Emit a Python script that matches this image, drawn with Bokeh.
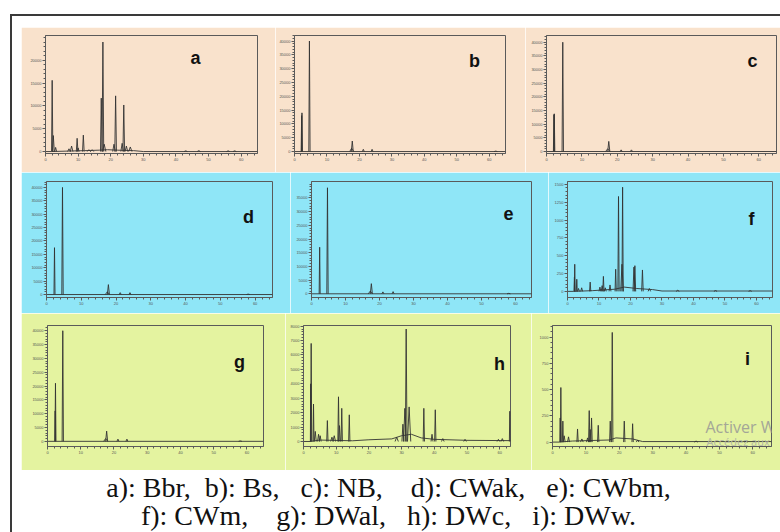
from bokeh.plotting import figure
from bokeh.layouts import row, column
from bokeh.models import Range1d, FixedTicker, Label, Div, Spacer
from bokeh.embed import file_html
from bokeh.resources import INLINE

# ---------------- data ----------------
x_ticks_min = [0, 10, 20, 30, 40, 50, 60]
sample_tags = {"a": "Bbr", "b": "Bs", "c": "NB", "d": "CWak", "e": "CWbm",
               "f": "CWm", "g": "DWal", "h": "DWc", "i": "DWw"}
caption_lines = ["a): Bbr,\u00a0 b): Bs,\u00a0\u00a0 c): NB,\u00a0\u00a0\u00a0 d): CWak,\u00a0\u00a0 e): CWbm,",
                 "f): CWm,\u00a0\u00a0\u00a0 g): DWal,\u00a0\u00a0 h): DWc,\u00a0\u00a0 i): DWw."]

# retention time (min), peak height (mAU), half base width (min)
a_rt = [2.05, 2.4, 3.1, 7.2, 8.0, 9.7, 10.0, 11.6, 13.3, 14.3, 17.1, 17.6, 18.0, 21.0, 21.5, 23.5, 24.0, 24.8, 26.0, 43.0, 47.0, 56.0, 58.0]
a_h = [15600, 3500, 900, 600, 1200, 2900, 800, 3600, 400, 400, 11700, 24000, 1600, 1600, 12200, 1800, 10200, 1200, 1000, 150, 200, 150, 150]
a_w = [0.2, 0.3, 0.3, 0.4, 0.4, 0.25, 0.3, 0.25, 0.5, 0.5, 0.25, 0.25, 0.5, 0.4, 0.25, 0.4, 0.25, 0.4, 0.5, 0.5, 0.5, 0.5, 0.5]
a_bx = [0, 1.8, 7, 12, 16.5, 19, 22, 27, 30, 65]
a_by = [0, 0, 100, 200, 300, 400, 300, 200, 0, 0]
a_yticks = [0, 5000, 10000, 15000, 20000]

b_rt = [2.2, 2.3, 4.6, 17.6, 17.8, 21.2, 23.9, 62.0]
b_h = [13000, 14000, 40000, 1200, 3800, 800, 800, 150]
b_w = [0.15, 0.15, 0.2, 0.6, 0.3, 0.3, 0.3, 0.5]
b_bx = [0, 65]
b_by = [0, 0]
b_yticks = [0, 5000, 10000, 15000, 20000, 25000, 30000, 35000, 40000]

c_rt = [2.1, 2.2, 4.6, 17.3, 17.6, 21.1, 24.0]
c_h = [13500, 13800, 40000, 1000, 3700, 600, 600]
c_w = [0.15, 0.15, 0.2, 0.6, 0.3, 0.3, 0.3]
c_bx = [0, 65]
c_by = [0, 0]
c_yticks = [0, 5000, 10000, 15000, 20000, 25000, 30000, 35000, 40000]

d_rt = [2.3, 4.6, 17.5, 17.8, 21.2, 24.0, 58.0]
d_h = [17500, 40000, 1000, 3700, 700, 700, 150]
d_w = [0.15, 0.2, 0.6, 0.3, 0.3, 0.3, 0.5]
d_bx = [0, 65]
d_by = [0, 0]
d_yticks = [0, 5000, 10000, 15000, 20000, 25000, 30000, 35000, 40000]

e_rt = [2.4, 4.7, 17.3, 17.6, 21.0, 24.0, 58.0]
e_h = [17000, 38700, 1000, 3700, 700, 800, 150]
e_w = [0.15, 0.2, 0.6, 0.3, 0.3, 0.3, 0.5]
e_bx = [0, 64.7]
e_by = [0, 0]
e_yticks = [0, 5000, 10000, 15000, 20000, 25000, 30000, 35000]

f_rt = [2.2, 2.3, 2.95, 3.5, 4.5, 7.2, 10.3, 11.0, 11.4, 12.0, 13.5, 15.3, 16.2, 17.3, 17.5, 21.1, 21.4, 23.8, 26.0, 35.0, 47.0, 58.0]
f_h = [200, 380, 170, 40, 50, 130, 60, 80, 210, 50, 90, 310, 1330, 380, 1460, 340, 360, 300, 40, 15, 12, 10]
f_w = [0.1, 0.15, 0.15, 0.3, 0.3, 0.2, 0.3, 0.3, 0.2, 0.3, 0.3, 0.2, 0.2, 0.4, 0.2, 0.3, 0.25, 0.25, 0.4, 0.5, 0.5, 0.5]
f_bx = [0, 2, 8, 15, 18, 22, 27, 30, 65.1]
f_by = [0, 0, 10, 30, 60, 40, 25, 5, 5]
f_yticks = [0, 250, 500, 750, 1000, 1250, 1500]

g_rt = [2.3, 2.4, 4.6, 17.5, 17.8, 21.2, 23.9, 58.0]
g_h = [11000, 21000, 40000, 1000, 3700, 800, 800, 150]
g_w = [0.12, 0.15, 0.2, 0.6, 0.3, 0.3, 0.3, 0.5]
g_bx = [0, 65]
g_by = [0, 0]
g_yticks = [0, 5000, 10000, 15000, 20000, 25000, 30000, 35000, 40000]

h_rt = [2.2, 2.35, 3.06, 3.6, 4.6, 5.1, 7.3, 8.7, 9.4, 10.7, 11.0, 11.7, 14.0, 28.5, 30.4, 31.0, 31.4, 32.3, 36.8, 39.3, 40.3, 42.6, 49.4, 59.6, 60.8, 63.1]
h_h = [4000, 6800, 2600, 700, 500, 400, 1450, 300, 400, 3100, 1100, 2300, 1850, 300, 1200, 2300, 7800, 2400, 2300, 500, 2200, 200, 150, 150, 200, 2100]
h_w = [0.1, 0.15, 0.15, 0.3, 0.3, 0.3, 0.2, 0.4, 0.4, 0.2, 0.3, 0.2, 0.2, 0.5, 0.3, 0.4, 0.25, 0.5, 0.2, 0.3, 0.2, 0.4, 0.4, 0.4, 0.4, 0.15]
h_bx = [0, 2, 5, 15, 20, 27, 30, 33, 36, 40, 50, 63.3]
h_by = [0, 0, 100, 50, 120, 180, 400, 500, 250, 150, 80, 60]
h_yticks = [0, 1000, 2000, 3000, 4000, 5000, 6000, 7000, 8000]

i_rt = [2.3, 2.5, 3.1, 3.5, 4.8, 7.5, 8.8, 10.5, 11.0, 11.3, 11.7, 13.7, 17.3, 17.9, 21.5, 24.0, 25.5, 43.0, 58.0]
i_h = [230, 520, 200, 60, 50, 125, 30, 40, 300, 120, 230, 160, 200, 1045, 200, 175, 20, 10, 10]
i_w = [0.1, 0.15, 0.15, 0.3, 0.3, 0.2, 0.4, 0.3, 0.2, 0.2, 0.2, 0.2, 0.2, 0.2, 0.2, 0.2, 0.4, 0.5, 0.5]
i_bx = [0, 2, 6, 17, 19, 24, 27, 65.6]
i_by = [0, 0, 10, 20, 40, 30, 5, 5]
i_yticks = [0, 250, 500, 750, 1000]

# ---------------- layout / style ----------------
PEACH, CYAN, LIME = "#F9E2CC", "#8FE6F7", "#E4F3A0"
TRACE = "#333333"
AXC = "#5a5a5a"

# fig box (x0,x1,y0,y1), frame box (l,r,t,b) in page px, x end, y range, letter position (page px)
GEOM = {
    "a": (21, 275, 27, 172, 45, 257, 33, 153, 65.0, -430, 25430, 195, 56),
    "b": (275, 525, 27, 172, 294, 505, 33, 153, 65.0, -712, 42000, 474, 58.5),
    "c": (525, 780, 27, 172, 546, 776, 35, 153, 65.0, -732, 42460, 752, 60),
    "d": (21, 290, 172, 313, 46, 272, 180, 297, 65.0, -1111, 42220, 248, 215.5),
    "e": (290, 548, 172, 313, 311, 531, 181, 297, 64.7, -1350, 40990, 508, 213),
    "f": (548, 780, 172, 313, 567, 772, 180, 299, 65.1, -86, 1540, 751, 218.5),
    "g": (21, 285, 313, 470, 47, 263, 322, 446, 65.0, -1870, 41890, 239, 359),
    "h": (285, 531, 313, 470, 303, 510, 325, 446, 63.3, -347, 8045, 499, 363.5),
    "i": (531, 780, 313, 470, 552, 771, 320, 448, 65.6, -42, 1111, 747, 355.5),
}


def make_panel(key, rt, ht, wd, bx, by, yticks, bg):
    fx0, fx1, fy0, fy1, fl, fr, ft, fb, xe, ylo, yhi, lpx, lpy = GEOM[key]
    p = figure(width=fx1 - fx0, height=fy1 - fy0,
               x_range=Range1d(0, xe), y_range=Range1d(ylo, yhi),
               output_backend="svg", toolbar_location=None,
               min_border_left=fl - fx0, min_border_right=fx1 - fr,
               min_border_top=ft - fy0, min_border_bottom=fy1 - fb,
               background_fill_color=bg, border_fill_color=bg,
               outline_line_color=AXC, outline_line_width=1)
    p.grid.visible = False
    for ax in (p.xaxis[0], p.yaxis[0]):
        ax.major_label_text_font_size = "4px"
        ax.major_label_text_color = "#555555"
        ax.major_label_standoff = 1
        ax.major_tick_out = 3
        ax.major_tick_in = 0
        ax.minor_tick_out = 2
        ax.minor_tick_in = 0
        ax.axis_line_color = AXC
        ax.major_tick_line_color = AXC
        ax.minor_tick_line_color = AXC
    p.xaxis.ticker = FixedTicker(ticks=x_ticks_min, minor_ticks=list(range(0, 66, 2)))
    step = yticks[1] / 5
    p.yaxis.ticker = FixedTicker(ticks=yticks,
                                 minor_ticks=[k * step for k in range(int(yhi / step) + 1)])

    p.line(bx, by, line_color=TRACE, line_width=0.9)
    xs = [[r - w, r, r + w] for r, w in zip(rt, wd)]
    ys = [[0, hv, 0] for hv in ht]
    p.multi_line(xs, ys, line_color=TRACE, line_width=0.9)

    def to_data(px, py):
        return ((px - fl) / (fr - fl) * xe, ylo + (fb - py) / (fb - ft) * (yhi - ylo))

    lx, ly = to_data(lpx, lpy)
    p.add_layout(Label(x=lx, y=ly, text=key, text_font="Liberation Sans",
                       text_font_size="18px", text_font_style="bold",
                       text_align="center", text_baseline="alphabetic", text_color="#111111"))
    p.add_layout(Label(x=xe, y=yhi, x_offset=-10, y_offset=1, text=sample_tags[key],
                       text_font="Liberation Serif", text_font_size="4px", text_font_style="bold",
                       text_align="right", text_baseline="bottom", text_color="#333333"))
    p.add_layout(Label(x=xe, y=ylo, x_offset=-3, y_offset=-9, text="min",
                       text_font="Liberation Sans", text_font_size="4px",
                       text_align="center", text_baseline="top", text_color="#555555"))
    p.add_layout(Label(x=0, y=yhi, x_offset=-4, text="mAU",
                       text_font="Liberation Sans", text_font_size="4px",
                       text_align="right", text_baseline="middle", text_color="#555555"))
    return p, to_data


pa, _ = make_panel("a", a_rt, a_h, a_w, a_bx, a_by, a_yticks, PEACH)
pb, _ = make_panel("b", b_rt, b_h, b_w, b_bx, b_by, b_yticks, PEACH)
pc, _ = make_panel("c", c_rt, c_h, c_w, c_bx, c_by, c_yticks, PEACH)
pd, _ = make_panel("d", d_rt, d_h, d_w, d_bx, d_by, d_yticks, CYAN)
pe, _ = make_panel("e", e_rt, e_h, e_w, e_bx, e_by, e_yticks, CYAN)
pf, _ = make_panel("f", f_rt, f_h, f_w, f_bx, f_by, f_yticks, CYAN)
pg, _ = make_panel("g", g_rt, g_h, g_w, g_bx, g_by, g_yticks, LIME)
ph, _ = make_panel("h", h_rt, h_h, h_w, h_bx, h_by, h_yticks, LIME)
pi, to_i = make_panel("i", i_rt, i_h, i_w, i_bx, i_by, i_yticks, LIME)

# screen watermark visible in the reference (cut by the screen edge there)
wx, wy = to_i(705, 427)
pi.add_layout(Label(x=wx, y=wy, text="Activer W", text_font="Open Sans",
                    text_font_size="16px", text_color="#a3a697", text_baseline="alphabetic"))
wx2, wy2 = to_i(706, 443)
pi.add_layout(Label(x=wx2, y=wy2, text="Accédez aux", text_font="Open Sans",
                    text_font_size="11px", text_color="#b3b6a6", text_baseline="alphabetic"))

# caption
cap = figure(width=768, height=62, x_range=Range1d(0, 768), y_range=Range1d(0, 62),
             x_axis_type=None, y_axis_type=None, min_border=0, outline_line_color=None,
             output_backend="svg", toolbar_location=None,
             background_fill_color="white", border_fill_color="white")
for txt, yy in zip(caption_lines, [45, 17]):
    cap.add_layout(Label(x=376, y=yy, text=txt, text_font="Liberation Serif",
                         text_font_size="28px", text_align="center",
                         text_baseline="middle", text_color="#111111"))

FRAME = "#3a3a3a"
hline = Div(text="", width=770, height=2, margin=0, styles={"background-color": FRAME})
vline = Div(text="", width=2, height=516, margin=0, styles={"background-color": FRAME})

inner = column(
    Spacer(width=768, height=11),
    row(Spacer(width=9, height=145), pa, pb, pc),
    row(Spacer(width=9, height=141), pd, pe, pf),
    row(Spacer(width=9, height=157), pg, ph, pi),
    cap,
)
layout = column(
    Spacer(width=780, height=14),
    row(Spacer(width=10, height=2), hline),
    row(Spacer(width=10, height=516), vline, inner),
)

open("out.html", "w").write(file_html(layout, INLINE))
